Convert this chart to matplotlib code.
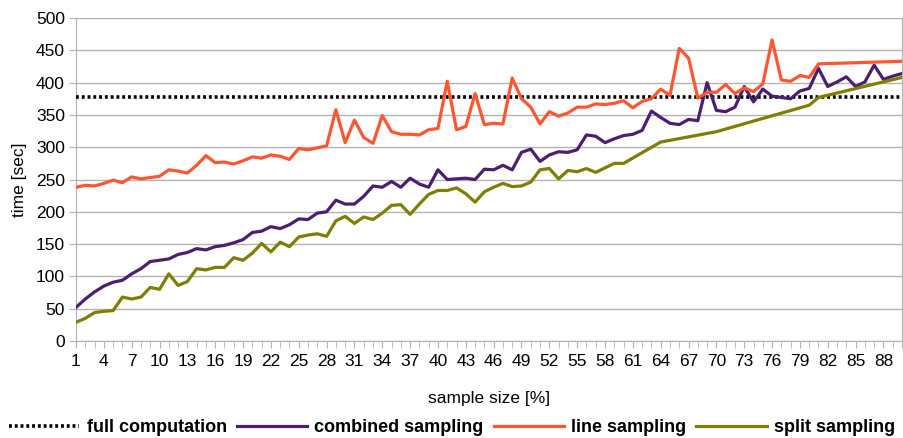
import matplotlib
matplotlib.use("Agg")
import matplotlib.pyplot as plt
from matplotlib.ticker import FixedLocator, NullFormatter

plt.rcParams['font.family'] = ['Liberation Sans', 'DejaVu Sans']

full_computation = 378

line_x = list(range(1, 82)) + [90]
line_sampling = [238, 241, 240, 244, 249, 245, 254, 251, 253, 255,
                 265, 263, 260, 272, 287, 276, 277, 274, 279, 285,
                 283, 288, 286, 281, 298, 296, 299, 302, 358, 307,
                 342, 315, 306, 349, 324, 320, 320, 319, 327, 329,
                 402, 327, 332, 383, 335, 337, 336, 407, 375, 362,
                 336, 355, 348, 353, 362, 362, 367, 366, 368, 372,
                 361, 371, 375, 390, 380, 453, 438, 376, 385, 385,
                 397, 383, 392, 386, 398, 466, 404, 402, 411, 408,
                 429, 433]

combined_x = list(range(1, 91))
combined_sampling = [52, 65, 76, 85, 91, 94, 104, 112, 123, 125,
                     127, 134, 137, 143, 141, 146, 148, 152, 157, 168,
                     170, 177, 174, 180, 189, 188, 198, 200, 218, 212,
                     212, 224, 240, 238, 247, 238, 252, 243, 238, 265,
                     250, 251, 252, 250, 266, 265, 272, 265, 292, 297,
                     278, 288, 293, 292, 296, 319, 317, 307, 313, 318,
                     320, 326, 356, 346, 337, 335, 343, 341, 400, 357,
                     355, 362, 394, 370, 390, 379, 377, 375, 387, 391,
                     422, 394, 401, 409, 394, 401, 427, 405, 410, 414]

split_x = list(range(1, 61)) + [64, 70, 80, 81, 90]
split_sampling = [29, 35, 44, 46, 47, 68, 65, 68, 83, 80,
                  104, 86, 92, 112, 110, 114, 114, 129, 125, 136,
                  151, 138, 153, 146, 161, 164, 166, 162, 186, 193,
                  182, 192, 188, 198, 210, 211, 196, 212, 227, 233,
                  233, 237, 228, 215, 231, 238, 244, 239, 240, 246,
                  265, 267, 251, 264, 262, 267, 261, 268, 275, 275,
                  308, 324, 365, 377, 408]

x_labels = list(range(1, 91, 3))

fig = plt.figure(figsize=(9.04, 4.38), dpi=100)
ax = fig.add_axes([76/904, 1-341/438, (902-76)/904, (341-18)/438])

grid_c = '#b3b3b3'
ax.axhline(full_computation, color='black', lw=2.6, ls=(0, (0.8, 0.8)),
           label='full computation', zorder=3)
ax.plot(combined_x, combined_sampling, color='#4b1f6f', lw=2.3,
        label='combined sampling', zorder=4)
ax.plot(line_x, line_sampling, color='#ff5530', lw=2.3,
        label='line sampling', zorder=4)
ax.plot(split_x, split_sampling, color='#7e7e00', lw=2.3,
        label='split sampling', zorder=4)

ax.set_xlim(1, 90)
ax.set_ylim(0, 500)
ax.set_yticks(range(0, 501, 50))
ax.yaxis.grid(True, color=grid_c, lw=1)
ax.set_axisbelow(True)
ax.xaxis.set_major_locator(FixedLocator(x_labels))
ax.xaxis.set_minor_locator(FixedLocator(range(1, 91)))
ax.xaxis.set_minor_formatter(NullFormatter())
ax.tick_params(axis='x', which='both', length=5, color=grid_c, labelsize=12.5,
               pad=4)
ax.tick_params(axis='y', length=5, color=grid_c, labelsize=12.5, pad=3)
for s in ax.spines.values():
    s.set_color(grid_c)
ax.spines['top'].set_visible(False)

ax.set_xlabel('sample size [%]', fontsize=12.5, labelpad=16)
ax.set_ylabel('time [sec]', fontsize=12.5, labelpad=6)

leg = fig.legend(loc='lower center', bbox_to_anchor=(0.5, -0.033), ncol=4,
                 frameon=False, handlelength=3.9, handletextpad=0.4,
                 columnspacing=0.55, prop={'weight': 'bold', 'size': 13})

fig.savefig('out.png', dpi=100)
